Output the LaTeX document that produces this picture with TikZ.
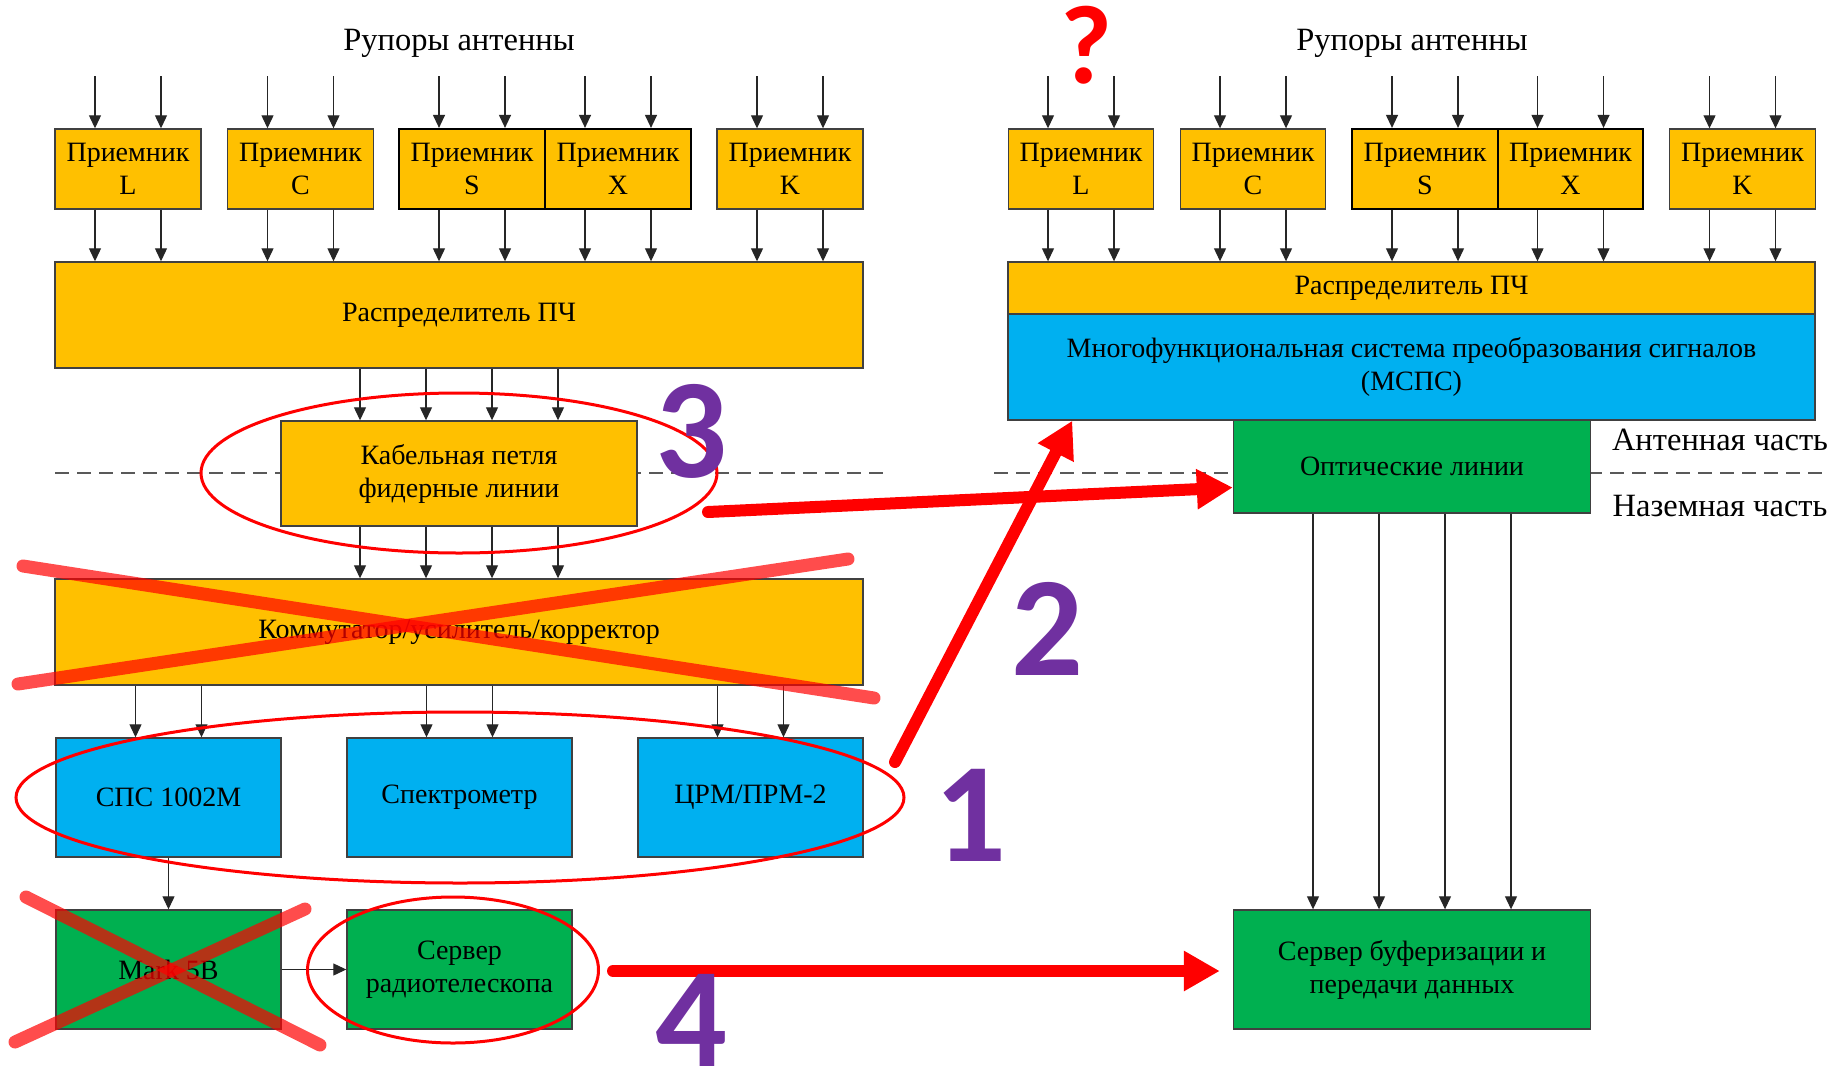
\documentclass[tikz,border=0pt]{standalone}
\usepackage{fontspec}
\setmainfont{Liberation Serif}
\newfontfamily\numfont{Carlito}
\usetikzlibrary{arrows.meta,calc}

\definecolor{boxyellow}{HTML}{FFC000}
\definecolor{boxblue}{HTML}{00B0F0}
\definecolor{boxgreen}{HTML}{00B050}
\definecolor{markpurple}{HTML}{7030A0}

\begin{document}
\begin{tikzpicture}[x=1pt,y=-1pt,
  blk/.style={draw=black!75, line width=1.4pt, inner sep=0pt, align=center,
    font=\fontsize{28}{33}\selectfont},
  ylw/.style={blk, fill=boxyellow},
  blu/.style={blk, fill=boxblue},
  grn/.style={blk, fill=boxgreen},
  rcv/.style={ylw, minimum width=146pt, minimum height=80pt},
  rcvpair/.style={rcv, draw=black, line width=2.2pt},
  lbl/.style={inner sep=0pt, font=\fontsize{32.5}{36}\selectfont},
  arr/.style={draw=black!85, line width=1.2pt, -{Triangle[width=12pt,length=13pt]}},
  sepline/.style={draw=black!65, line width=2.5pt, dash pattern=on 14pt off 8pt},
  ring/.style={draw=red, line width=3pt},
  cross/.style={draw=red, draw opacity=0.7, line width=13pt, line cap=round},
  bigarrow/.style={draw=red, line width=12pt, line cap=round,
    -{Triangle[width=38pt,length=36pt]}},
  num/.style={inner sep=0pt, text=markpurple, font=\numfont\bfseries\fontsize{142}{142}\selectfont}
]
\fill[white] (0,0) rectangle (1835,1073);
\useasboundingbox (0,0) rectangle (1835,1073);

% antenna / ground boundary
\coordinate (sepA) at (55,473);
\coordinate (sepB) at (886,473);
\coordinate (sepC) at (994,473);
\coordinate (sepD) at (1827,473);
\draw[sepline] (sepA) -- (sepB);
\draw[sepline] (sepC) -- (sepD);

% ---------------- current scheme (left) ----------------
\node[lbl] (hornsL) at (459,43) {Рупоры антенны};
\coordinate (feedL) at (459,76);

\node[rcv] (rL) at (128,169) {Приемник\\L};
\node[rcv] (rC) at (300.5,169) {Приемник\\C};
\node[rcvpair] (rS) at (472,169) {Приемник\\S};
\node[rcvpair] (rX) at (618,169) {Приемник\\X};
\node[rcv] (rK) at (790,169) {Приемник\\K};

\node[ylw, minimum width=808pt, minimum height=106pt] (distL) at (459,315) {Распределитель ПЧ};
\node[ylw, minimum width=356pt, minimum height=105pt] (cable) at (459,473.5) {Кабельная петля\\фидерные линии};
\node[ylw, minimum width=808pt, minimum height=106pt] (comm) at (459,632) {Коммутатор/усилитель/корректор};

\node[blu, minimum width=225pt, minimum height=119pt] (sps) at (168.5,797.5) {СПС 1002М};
\node[blu, minimum width=225pt, minimum height=119pt] (spec) at (459.5,797.5) {Спектрометр};
\node[blu, minimum width=225pt, minimum height=119pt] (crm) at (750.5,797.5) {ЦРМ/ПРМ-2};

\node[grn, minimum width=225pt, minimum height=119pt] (mark) at (168.5,969.5) {Mark 5B};
\node[grn, minimum width=225pt, minimum height=119pt] (srv) at (459.5,969.5) {Сервер\\радиотелескопа};

\foreach \n in {rL,rC,rS,rX,rK}
  \foreach \dx in {-33,33} {
    \draw[arr] ($(\n.north|-feedL)+(\dx,0)$) -- ($(\n.north)+(\dx,0)$);
    \draw[arr] ($(\n.south)+(\dx,0)$) -- ($(\n.south|-distL.north)+(\dx,0)$);
  }
\foreach \dx in {-99,-33,33,99} {
  \draw[arr] ($(distL.south)+(\dx,0)$) -- ($(distL.south|-cable.north)+(\dx,0)$);
  \draw[arr] ($(cable.south)+(\dx,0)$) -- ($(cable.south|-comm.north)+(\dx,0)$);
}
\foreach \n in {sps,spec,crm}
  \foreach \dx in {-33,33}
    \draw[arr] ($(\n.north|-comm.south)+(\dx,0)$) -- ($(\n.north)+(\dx,0)$);
\draw[arr] (sps.south) -- (mark.north);
\draw[arr] (mark.east) -- (srv.west);

% ---------------- new scheme (right) ----------------
\node[lbl] (hornsR) at (1412,43) {Рупоры антенны};
\coordinate (feedR) at (1412,76);

\node[rcv, minimum width=145.5pt] (RL) at (1081,169) {Приемник\\L};
\node[rcv, minimum width=145.5pt] (RC) at (1253,169) {Приемник\\C};
\node[rcvpair, minimum width=145.5pt] (RS) at (1425,169) {Приемник\\S};
\node[rcvpair, minimum width=145.5pt] (RX) at (1570.5,169) {Приемник\\X};
\node[rcv, minimum width=145.5pt] (RK) at (1742.5,169) {Приемник\\K};

\node[ylw, minimum width=807pt, minimum height=52pt] (distR) at (1411.5,288) {Распределитель ПЧ};
\node[blu, minimum width=807pt, minimum height=106pt] (mcps) at (1411.5,367)
  {Многофункциональная система преобразования сигналов\\(МСПС)};
\node[grn, minimum width=357pt, minimum height=93pt] (opt) at (1412,466.5) {Оптические линии};
\node[grn, minimum width=357pt, minimum height=119pt] (buf) at (1412,969.5)
  {Сервер буферизации и\\передачи данных};

\node[lbl] (antpart) at (1720,440) {Антенная часть};
\node[lbl] (gndpart) at (1720,506) {Наземная часть};

\foreach \n in {RL,RC,RS,RX,RK}
  \foreach \dx in {-33,33} {
    \draw[arr] ($(\n.north|-feedR)+(\dx,0)$) -- ($(\n.north)+(\dx,0)$);
    \draw[arr] ($(\n.south)+(\dx,0)$) -- ($(\n.south|-distR.north)+(\dx,0)$);
  }
\foreach \dx in {-99,-33,33,99}
  \draw[arr] ($(opt.south)+(\dx,0)$) -- ($(opt.south|-buf.north)+(\dx,0)$);

% ---------------- remarks ----------------
\draw[cross] (23,566) -- (874,698);
\draw[cross] (18,684) -- (848,559);
\draw[cross] (26,897) -- (320,1045);
\draw[cross] (15,1042) -- (305,909);

\draw[ring] (459,473) ellipse [x radius=258pt, y radius=80pt];
\draw[ring] (460,797.5) ellipse [x radius=444pt, y radius=85.5pt];
\draw[ring] (453,970) ellipse [x radius=145.5pt, y radius=73pt];

\coordinate (from3) at (708,512);
\coordinate (from2) at (895,762);
\coordinate (from4) at (613,971);
\draw[bigarrow] (from3) -- ([yshift=-21pt]opt.west);
\draw[bigarrow] (from2) -- ([xshift=65pt]mcps.south west);
\draw[bigarrow, shorten >=13pt] (from4) -- (from4 -| buf.west);

\node[num] (n3) at (691,431) {3};
\node[num] (n2) at (1047,629) {2};
\node[num] (n1) at (970,815) {1};
\node[num] (n4) at (691,1020) {4};
\node[num, text=red, font=\numfont\bfseries\fontsize{112}{112}\selectfont] (q) at (1086,45) {?};
\end{tikzpicture}
\end{document}
